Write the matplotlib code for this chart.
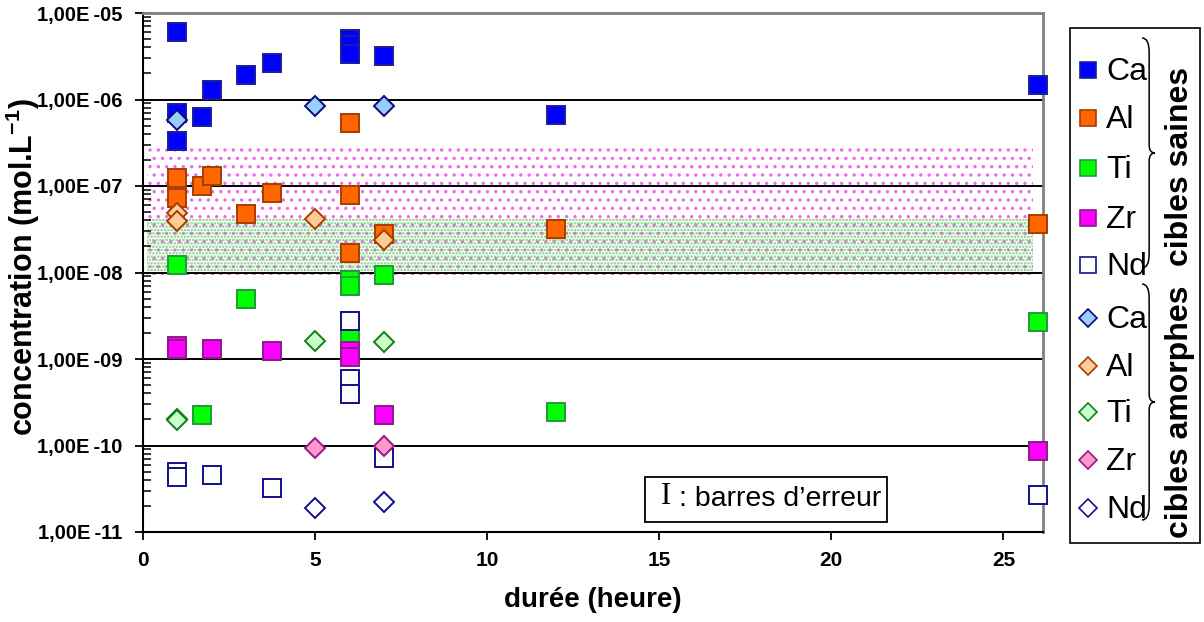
import numpy as np
import matplotlib
matplotlib.use("Agg")
import matplotlib.pyplot as plt
from matplotlib.path import Path
from matplotlib.patches import PathPatch, Rectangle
from matplotlib.ticker import FixedLocator, LogLocator, NullFormatter

plt.rcParams['font.family'] = ['Liberation Sans', 'DejaVu Sans']
plt.rcParams['mathtext.fontset'] = 'custom'
plt.rcParams['mathtext.rm'] = 'Liberation Sans'
plt.rcParams['mathtext.bf'] = 'Liberation Sans:bold'
plt.rcParams['hatch.linewidth'] = 1.2

# --- data: cibles saines (squares) ---
ca_s_x = [1, 1, 1, 1.7, 2, 3, 3.75, 6, 6, 6, 7, 12, 26]
ca_s_y = [6.0e-6, 7.0e-7, 3.3e-7, 6.3e-7, 1.3e-6, 1.9e-6, 2.65e-6, 5.0e-6, 4.3e-6, 3.4e-6, 3.2e-6, 6.6e-7, 1.48e-6]
al_s_x = [1, 1, 1.7, 2, 3, 3.75, 6, 6, 6, 7, 12, 26]
al_s_y = [1.24e-7, 7.3e-8, 1.0e-7, 1.31e-7, 4.8e-8, 8.3e-8, 5.3e-7, 7.9e-8, 1.7e-8, 2.75e-8, 3.2e-8, 3.6e-8]
ti_s_x = [1, 1.7, 3, 6, 6, 6, 7, 12, 26]
ti_s_y = [1.23e-8, 2.24e-10, 5.0e-9, 8.1e-9, 6.9e-9, 1.74e-9, 9.3e-9, 2.45e-10, 2.7e-9]
zr_s_x = [1, 1, 2, 3.75, 6, 6, 7, 26]
zr_s_y = [1.4e-9, 1.3e-9, 1.29e-9, 1.24e-9, 1.25e-9, 1.05e-9, 2.24e-10, 8.7e-11]
nd_s_x = [1, 1, 2, 3.75, 6, 6, 6, 7, 26]
nd_s_y = [5.0e-11, 4.3e-11, 4.5e-11, 3.25e-11, 2.75e-9, 5.9e-10, 3.9e-10, 7.1e-11, 2.7e-11]

# --- data: cibles amorphes (diamonds) ---
ca_a_x = [1, 5, 7]
ca_a_y = [5.8e-7, 8.3e-7, 8.3e-7]
al_a_x = [1, 1, 5, 7]
al_a_y = [4.9e-8, 3.9e-8, 4.2e-8, 2.35e-8]
ti_a_x = [1, 1, 5, 7]
ti_a_y = [2.0e-10, 1.95e-10, 1.62e-9, 1.58e-9]
zr_a_x = [5, 7]
zr_a_y = [9.3e-11, 1.0e-10]
nd_a_x = [5, 7]
nd_a_y = [1.9e-11, 2.2e-11]

elements = ['Ca', 'Al', 'Ti', 'Zr', 'Nd']
sq_face = ['#0000ff', '#ff6600', '#00ff00', '#ff00ff', 'white']
sq_edge = ['#1c1c9c', '#a83c00', '#1f9a3a', '#8c1a8c', '#10108c']
di_face = ['#99ccff', '#ffcc99', '#ccffcc', '#ff99cc', 'white']
di_edge = ['#0a0a80', '#a83c00', '#108010', '#8c1a8c', '#10108c']

saines = [(ca_s_x, ca_s_y), (al_s_x, al_s_y), (ti_s_x, ti_s_y), (zr_s_x, zr_s_y), (nd_s_x, nd_s_y)]
amorphes = [(ca_a_x, ca_a_y), (al_a_x, al_a_y), (ti_a_x, ti_a_y), (zr_a_x, zr_a_y), (nd_a_x, nd_a_y)]

ytick_vals = [1e-11, 1e-10, 1e-9, 1e-8, 1e-7, 1e-6, 1e-5]
ytick_text = ['1,00E\u2009-11', '1,00E\u2009-10', '1,00E\u2009-09', '1,00E\u2009-08',
              '1,00E\u2009-07', '1,00E\u2009-06', '1,00E\u2009-05']
xtick_vals = [0, 5, 10, 15, 20, 25]

# shaded bands (concentration ranges)
band_mag = (9.3e-9, 3.0e-7)
band_green = (9.5e-9, 4.3e-8)

fig = plt.figure(figsize=(12.04, 6.22), dpi=100)
ax = fig.add_axes([143 / 1204, 1 - 532 / 622, 900 / 1204, 519 / 622])

ax.set_yscale('log')
ax.set_ylim(1e-11, 1e-5)
ax.set_xlim(0, 26.15)

bx = np.array([0.12, 25.85])
ax.fill_between(bx, band_mag[0], band_mag[1], facecolor='none', edgecolor='#ee66ee',
                hatch='..', linewidth=0, zorder=1)
ax.fill_between(bx, band_green[0], band_green[1], facecolor='none', edgecolor='#77cc77',
                hatch='.....', linewidth=0, zorder=1)

for d in ytick_vals[1:-1]:
    ax.axhline(d, color='black', lw=1.4, zorder=2)

for (x, y), fc, ec in zip(saines, sq_face, sq_edge):
    ax.plot(x, y, ls='none', marker='s', ms=13.2, mfc=fc, mec=ec, mew=1.4,
            zorder=4, clip_on=False)
for (x, y), fc, ec in zip(amorphes, di_face, di_edge):
    ax.plot(x, y, ls='none', marker='D', ms=10.5, mfc=fc, mec=ec, mew=1.4,
            zorder=5, clip_on=False)

# axes look
for s in ['top', 'right']:
    ax.spines[s].set_color('#808080')
    ax.spines[s].set_linewidth(2)
for s in ['left', 'bottom']:
    ax.spines[s].set_linewidth(1.5)

ax.xaxis.set_major_locator(FixedLocator(xtick_vals))
ax.yaxis.set_major_locator(FixedLocator(ytick_vals))
ax.yaxis.set_minor_locator(LogLocator(base=10, subs=np.arange(2, 10)))
ax.yaxis.set_minor_formatter(NullFormatter())
ax.set_yticklabels(ytick_text, fontweight='bold', fontsize=14.5)
ax.set_xticklabels([str(v) for v in xtick_vals], fontweight='bold', fontsize=15)
ax.tick_params(axis='y', which='major', direction='inout', length=12, width=1.3, pad=9)
ax.tick_params(axis='y', which='minor', direction='in', length=6, width=1.1)
ax.tick_params(axis='x', which='major', direction='out', length=6, width=1.3, pad=8)

ax.set_xlabel('durée (heure)', fontweight='bold', fontsize=20, labelpad=12)
ax.set_ylabel(r'concentration (mol.L$^{\mathbf{-1}}$)', fontweight='bold', fontsize=22)
ax.yaxis.set_label_coords(-0.112, 0.51)

# overlay in pixel coordinates for legend / annotation
ov = fig.add_axes([0, 0, 1, 1], zorder=10)
ov.set_xlim(0, 1204)
ov.set_ylim(622, 0)
ov.axis('off')

# error bar note
ov.add_patch(Rectangle((645, 477), 242, 45, fill=False, ec='black', lw=1.3))
ov.text(666, 497, 'I', family='Liberation Serif', fontsize=22, ha='center', va='center')
ov.text(679, 499, ': barres d\u2019erreur', fontsize=20.5, ha='left', va='center')

# legend box
ov.add_patch(Rectangle((1070, 28), 130, 515, fill=False, ec='black', lw=1.2))
rows = [70, 118, 168, 218, 265, 318, 366, 412, 460, 508]
for i, el in enumerate(elements):
    ov.plot(1088, rows[i], marker='s', ms=12, mfc=sq_face[i], mec=sq_edge[i], mew=1.2, ls='none')
    ov.text(1106, rows[i] + 2, el, fontsize=23, va='center', ha='left')
    ov.plot(1088, rows[i + 5], marker='D', ms=9.5, mfc=di_face[i], mec=di_edge[i], mew=1.2, ls='none')
    ov.text(1106, rows[i + 5] + 2, el, fontsize=23, va='center', ha='left')


def brace(x0, y0, y1, w):
    ym = (y0 + y1) / 2
    verts = [(x0, y0), (x0 + w * 0.55, y0), (x0 + w * 0.55, y0 + 14),
             (x0 + w * 0.55, ym - 8),
             (x0 + w * 0.55, ym), (x0 + w, ym),
             (x0 + w * 0.55, ym), (x0 + w * 0.55, ym + 8),
             (x0 + w * 0.55, y1 - 14),
             (x0 + w * 0.55, y1), (x0, y1)]
    codes = [Path.MOVETO, Path.CURVE3, Path.CURVE3, Path.LINETO,
             Path.CURVE3, Path.CURVE3, Path.CURVE3, Path.CURVE3,
             Path.LINETO, Path.CURVE3, Path.CURVE3]
    ov.add_patch(PathPatch(Path(verts, codes), fill=False, ec='black', lw=1.1))


brace(1142, 38, 268, 13)
brace(1142, 284, 520, 13)
ov.text(1180, 166, 'cibles saines', rotation=90, fontweight='bold', fontsize=23,
        ha='center', va='center')
ov.text(1180, 412, 'cibles amorphes', rotation=90, fontweight='bold', fontsize=23,
        ha='center', va='center')

fig.savefig('out.png', dpi=100)
